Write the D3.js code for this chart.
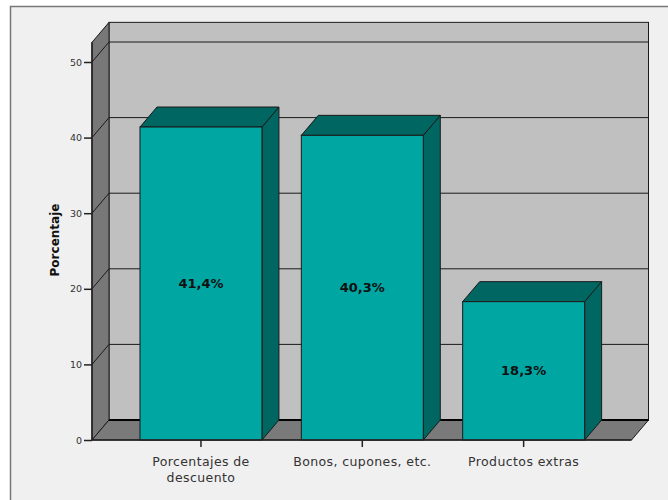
<!DOCTYPE html>
<html><head><meta charset="utf-8">
<script src="https://cdn.jsdelivr.net/npm/d3@7"></script>
<style>html,body{margin:0;padding:0;background:#fff;}svg{display:block;}</style>
</head><body>
<svg id="chart" width="668" height="500"></svg>
<script>
const categories = [["Porcentajes de","descuento"],["Bonos, cupones, etc."],["Productos extras"]];
const categoryKeys = ["Porcentajes de descuento","Bonos, cupones, etc.","Productos extras"];
const values = [41.4, 40.3, 18.3];
const valueLabels = ["41,4%","40,3%","18,3%"];
const yTicks = [0,10,20,30,40,50];
const yTitle = "Porcentaje";

const svg = d3.select("#chart");
const W = 668, H = 500;
const dx = 17, dy = -20;
const y = d3.scaleLinear().domain([0,50]).range([440,62]);
const yTop = 52.6;
const x = d3.scaleBand().domain(categoryKeys).range([120.3,604.3]).paddingInner(0.244).paddingOuter(0.122);
const xLeft = 92, xRight = 631.5;

// frame
svg.append("rect").attr("x",0).attr("y",0).attr("width",W).attr("height",H).attr("fill","#fff");
svg.append("rect").attr("x",10.5).attr("y",6.5).attr("width",700).attr("height",600).attr("fill","#f0f0f0").attr("stroke","#777").attr("stroke-width",1.5);

const g = svg.append("g");
const stroke = "#1a1a1a";
// back wall
g.append("rect").attr("x",xLeft+dx).attr("y",y(yTop)+dy).attr("width",xRight-xLeft).attr("height",y(0)-y(yTop))
  .attr("fill","#c0c0c0").attr("stroke",stroke).attr("stroke-width",1);
// left wall
g.append("path").attr("d",`M${xLeft},${y(0)}L${xLeft},${y(yTop)}L${xLeft+dx},${y(yTop)+dy}L${xLeft+dx},${y(0)+dy}Z`)
  .attr("fill","#787878").attr("stroke",stroke).attr("stroke-width",1);
// floor
g.append("path").attr("d",`M${xLeft},${y(0)}L${xLeft+dx},${y(0)+dy}L${xRight+dx},${y(0)+dy}L${xRight},${y(0)}Z`)
  .attr("fill","#7a7a7a").attr("stroke",stroke).attr("stroke-width",1);
g.append("line").attr("x1",xLeft+dx).attr("x2",xRight+dx).attr("y1",y(0)+dy).attr("y2",y(0)+dy).attr("stroke","#000").attr("stroke-width",2);
// gridlines
yTicks.filter(t=>t>0).forEach(t=>{
  g.append("line").attr("x1",xLeft+dx).attr("x2",xRight+dx).attr("y1",y(t)+dy).attr("y2",y(t)+dy).attr("stroke",stroke).attr("stroke-width",1);
  g.append("line").attr("x1",xLeft).attr("x2",xLeft+dx).attr("y1",y(t)).attr("y2",y(t)+dy).attr("stroke",stroke).attr("stroke-width",1);
});

// bars
const front = "#00a6a2", dark = "#006662";
categoryKeys.forEach((c,i)=>{
  const x0 = x(c), x1 = x(c)+x.bandwidth(), yt = y(values[i]), yb = y(0);
  g.append("path").attr("d",`M${x1},${yt}L${x1+dx},${yt+dy}L${x1+dx},${yb+dy}L${x1},${yb}Z`).attr("fill",dark).attr("stroke",stroke).attr("stroke-width",1);
  g.append("path").attr("d",`M${x0},${yt}L${x0+dx},${yt+dy}L${x1+dx},${yt+dy}L${x1},${yt}Z`).attr("fill",dark).attr("stroke",stroke).attr("stroke-width",1);
  g.append("rect").attr("x",x0).attr("y",yt).attr("width",x1-x0).attr("height",yb-yt).attr("fill",front).attr("stroke",stroke).attr("stroke-width",1);
  g.append("text").attr("x",(x0+x1)/2).attr("y",(yt+yb)/2).attr("dy","0.35em").attr("text-anchor","middle")
    .attr("font-family","DejaVu Sans").attr("font-weight","bold").attr("font-size",13).attr("fill","#111").text(valueLabels[i]);
});

// y axis
const yAxis = d3.axisLeft(y).tickValues(yTicks).tickSize(8).tickPadding(2).tickFormat(d3.format("d"));
const ya = svg.append("g").attr("transform",`translate(${xLeft},0)`).call(yAxis);
ya.select(".domain").remove();
ya.selectAll(".tick line").attr("stroke","#222").attr("stroke-width",1.5);
ya.selectAll(".tick text").attr("font-family","DejaVu Sans").attr("font-size",9.5).attr("fill","#333");
svg.append("line").attr("x1",xLeft).attr("x2",xLeft).attr("y1",y(yTop)).attr("y2",y(0)).attr("stroke","#222").attr("stroke-width",1.5);
svg.append("line").attr("x1",xLeft).attr("x2",xRight).attr("y1",y(0)).attr("y2",y(0)).attr("stroke","#222").attr("stroke-width",1.5);

// x axis
const xa = svg.append("g").attr("transform",`translate(0,${y(0)})`).call(d3.axisBottom(x).tickSize(7).tickFormat(""));
xa.select(".domain").remove();
xa.selectAll(".tick line").attr("stroke","#222").attr("stroke-width",1.5);
categoryKeys.forEach((c,i)=>{
  const t = svg.append("text").attr("x",x(c)+x.bandwidth()/2).attr("y",466).attr("text-anchor","middle")
    .attr("font-family","DejaVu Sans").attr("font-size",12.5).attr("letter-spacing","0.4px").attr("fill","#333");
  categories[i].forEach((line,j)=>t.append("tspan").attr("x",x(c)+x.bandwidth()/2).attr("dy",j?15.5:0).text(line));
});

// y title
svg.append("text").attr("transform","translate(59,240) rotate(-90)").attr("text-anchor","middle")
  .attr("font-family","DejaVu Sans").attr("font-weight","bold").attr("font-size",12).attr("fill","#111").text(yTitle);
</script>
</body></html>
